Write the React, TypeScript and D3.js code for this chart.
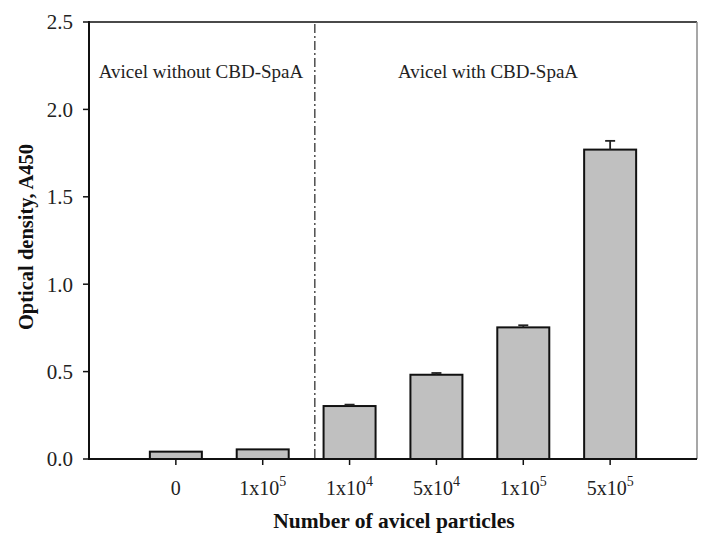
import React from "react";
import * as d3 from "d3";

const categories = ["0", "1x10^5", "1x10^4", "5x10^4", "1x10^5", "5x10^5"];
const values = [0.042, 0.055, 0.303, 0.482, 0.753, 1.77];
const errors = [0, 0, 0.008, 0.01, 0.012, 0.05];
const yTicks = [0, 0.5, 1.0, 1.5, 2.0, 2.5];
const groupLabels = ["Avicel without CBD-SpaA", "Avicel with CBD-SpaA"];
const dividerPos = 2.6;

const W = 712, H = 551;
const left = 89, right = 697, top = 22, bottom = 459;
const FONT = "'Liberation Serif', 'Times New Roman', serif";

export default function App() {
  const x = d3.scaleLinear().domain([0, 7]).range([left, right]);
  const y = d3.scaleLinear().domain([0, 2.5]).range([bottom, top]);
  const barW = 52;
  const capW = 10;

  const renderLabel = (s: string) => {
    const [base, exp] = s.split("^");
    if (!exp) return base;
    return (
      <>
        {base}
        <tspan fontSize={14} dy={-9}>{exp}</tspan>
      </>
    );
  };

  return (
    <svg width={W} height={H} style={{ position: "absolute", left: 0, top: 0, background: "#fff" }} fontFamily={FONT}>
      <rect x={0} y={0} width={W} height={H} fill="#fff" />
      {/* frame top & right */}
      <line x1={left} x2={right} y1={top} y2={top} stroke="#4a4a4a" strokeWidth={2} />
      <line x1={right} x2={right} y1={top} y2={bottom} stroke="#8a8a8a" strokeWidth={1.5} />
      {/* divider */}
      <line x1={x(dividerPos)} x2={x(dividerPos)} y1={top + 2} y2={bottom} stroke="#333" strokeWidth={1.3} strokeDasharray="9 3 2 3" />
      {/* bars */}
      {values.map((v, i) => {
        const cx = x(i + 1);
        return (
          <g key={i}>
            <rect x={cx - barW / 2} y={y(v)} width={barW} height={y(0) - y(v)} fill="#c0c0c0" stroke="#111" strokeWidth={2} />
            {errors[i] > 0 && (
              <g stroke="#222" strokeWidth={1.8}>
                <line x1={cx} x2={cx} y1={y(v)} y2={y(v + errors[i])} />
                <line x1={cx - capW / 2} x2={cx + capW / 2} y1={y(v + errors[i])} y2={y(v + errors[i])} />
              </g>
            )}
          </g>
        );
      })}
      {/* axes */}
      <line x1={left} x2={left} y1={top - 1} y2={bottom + 1} stroke="#111" strokeWidth={2} />
      <line x1={left - 1} x2={right} y1={bottom} y2={bottom} stroke="#111" strokeWidth={2} />
      {yTicks.map((t) => (
        <g key={t}>
          <line x1={left - 6} x2={left} y1={y(t)} y2={y(t)} stroke="#111" strokeWidth={1.5} />
          <text x={73} y={y(t)} dy="0.35em" textAnchor="end" fontSize={21} fill="#222">{t.toFixed(1)}</text>
        </g>
      ))}
      {categories.map((c, i) => (
        <g key={i}>
          <line x1={x(i + 1)} x2={x(i + 1)} y1={bottom} y2={bottom + 6} stroke="#111" strokeWidth={1.5} />
          <text x={x(i + 1)} y={495} textAnchor="middle" fontSize={20} fill="#222">{renderLabel(c)}</text>
        </g>
      ))}
      {/* group labels */}
      <text x={201} y={78} textAnchor="middle" fontSize={19} fill="#222">{groupLabels[0]}</text>
      <text x={488} y={78} textAnchor="middle" fontSize={19} fill="#222">{groupLabels[1]}</text>
      {/* axis titles */}
      <text x={394} y={528} textAnchor="middle" fontSize={21.5} fontWeight="bold" fill="#111">Number of avicel particles</text>
      <text transform={`translate(33, 237) rotate(-90)`} textAnchor="middle" fontSize={20.5} fontWeight="bold" fill="#111">Optical density, A450</text>
    </svg>
  );
}
